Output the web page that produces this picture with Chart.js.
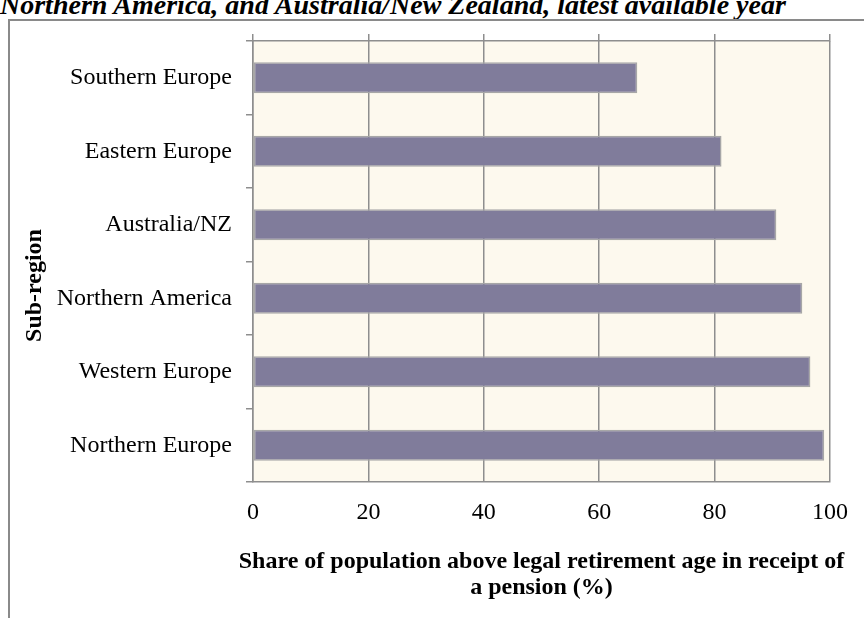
<!DOCTYPE html>
<html>
<head>
<meta charset="utf-8">
<script src="https://cdn.jsdelivr.net/npm/chart.js@4.4.1/dist/chart.umd.min.js"></script>
<style>
  html, body { margin: 0; padding: 0; background: #fff; overflow: hidden; }
  body { width: 864px; height: 618px; position: relative; }
  .caption {
    position: absolute; left: 0; top: -10px; white-space: nowrap;
    font: italic bold 28px/30px "Liberation Serif", "Times New Roman", serif; color: #000;
  }
  .frame {
    position: absolute; left: 8px; top: 19px; right: 0; bottom: 0;
    border-left: 2px solid #8a8a8a; border-top: 2px solid #8a8a8a;
  }
  #chartBox { position: absolute; left: 10px; top: 21px; width: 854px; height: 597px; }
</style>
</head>
<body>
<div class="caption">Northern America, and Australia/New Zealand, latest available year</div>
<div class="frame"></div>
<div id="chartBox"><canvas id="pension-chart" width="854" height="597"></canvas></div>
<script>
// Sub-regions, top to bottom
const regions = ['Southern Europe', 'Eastern Europe', 'Australia/NZ', 'Northern America', 'Western Europe', 'Northern Europe'];
// Share receiving a pension (%)
const pensionShare = [66.6, 81.2, 90.7, 95.2, 96.6, 99.0];
// Value axis ticks
const xTicks = [0, 20, 40, 60, 80, 100];
// Value axis title, one entry per line
const xTitle = ['Share of population above legal retirement age in receipt of', 'a pension (%)'];

const serif = '"Liberation Serif", "Times New Roman", serif';
const gridColor = '#8e8e8e';

// Cream plot background
const plotBackground = {
    id: 'plotBackground',
    beforeDraw(chart) {
        const { ctx, chartArea: a } = chart;
        ctx.save();
        ctx.fillStyle = '#fdf9ee';
        ctx.fillRect(a.left, a.top, a.right - a.left, a.bottom - a.top);
        ctx.restore();
    }
};

// The built-in axis title squeezes text to the axis width, so draw it here
const valueAxisTitle = {
    id: 'valueAxisTitle',
    afterDraw(chart) {
        const { ctx, chartArea: a } = chart;
        const cx = (a.left + a.right) / 2;
        ctx.save();
        ctx.fillStyle = '#000';
        ctx.font = 'bold 24px ' + serif;
        ctx.textAlign = 'center';
        ctx.textBaseline = 'middle';
        xTitle.forEach((line, i) => ctx.fillText(line, cx, a.bottom + 80 + i * 26));
        ctx.restore();
    }
};

const ctx = document.getElementById('pension-chart').getContext('2d');
const pensionChart = new Chart(ctx, {
    type: 'bar',
    data: {
        labels: regions,
        datasets: [{
            data: pensionShare,
            backgroundColor: '#807c9b',
            borderColor: '#a7a7a7',
            borderWidth: 1.5,
            borderSkipped: false,
            barPercentage: 0.42,
            categoryPercentage: 1
        }]
    },
    options: {
        indexAxis: 'y',
        responsive: false,
        animation: false,
        layout: { padding: { top: 13, right: 25, bottom: 0, left: 0 } },
        plugins: {
            legend: { display: false },
            tooltip: { enabled: false }
        },
        scales: {
            x: {
                type: 'linear',
                position: 'bottom',
                min: 0,
                max: 100,
                afterBuildTicks: (scale) => { scale.ticks = xTicks.map(v => ({ value: v })); },
                ticks: { color: '#000', font: { family: serif, size: 24 }, padding: 16 },
                grid: { color: gridColor, lineWidth: 1.5, drawTicks: false },
                border: { color: gridColor, width: 1.5 },
                afterFit: (scale) => { scale.height = 136; }
            },
            xTop: {
                type: 'linear',
                position: 'top',
                min: 0,
                max: 100,
                afterBuildTicks: (scale) => { scale.ticks = xTicks.map(v => ({ value: v })); },
                ticks: { display: false },
                grid: { color: gridColor, lineWidth: 1.5, drawOnChartArea: false, tickLength: 7 },
                border: { color: gridColor, width: 1.5 }
            },
            y: {
                type: 'category',
                position: 'left',
                ticks: { color: '#000', font: { family: serif, size: 24 }, padding: 14 },
                grid: { color: gridColor, lineWidth: 1.5, drawOnChartArea: false, tickLength: 7, offset: true },
                border: { color: gridColor, width: 1.5 },
                title: {
                    display: true,
                    // trailing spaces nudge the rotated title a little lower
                    text: 'Sub-region' + '\u00a0'.repeat(8),
                    color: '#000',
                    font: { family: serif, size: 24, weight: 'bold' },
                    padding: { top: 10, bottom: 0 }
                },
                afterFit: (scale) => {
                    scale.width = 243;
                    scale.paddingTop = 0;
                    scale.paddingBottom = 0;
                }
            }
        }
    },
    plugins: [plotBackground, valueAxisTitle]
});
</script>
</body>
</html>
